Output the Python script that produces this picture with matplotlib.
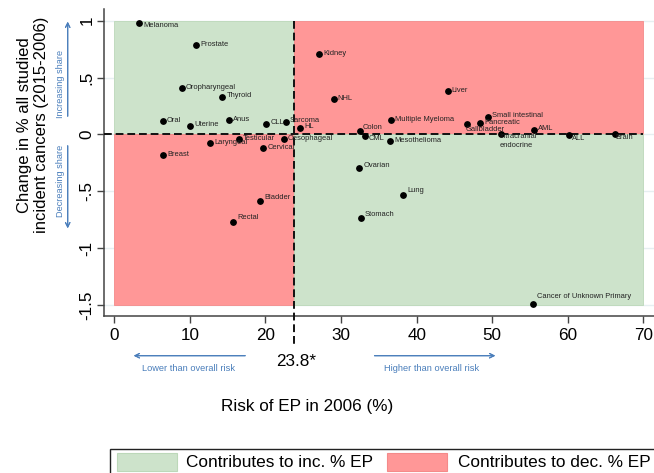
import matplotlib
matplotlib.use('Agg')
import matplotlib.pyplot as plt
from matplotlib.patches import Rectangle

plt.rcParams['font.family'] = ['Liberation Sans', 'DejaVu Sans']

# ---- data ----
cancers = ['Melanoma', 'Prostate', 'Oropharyngeal', 'Thyroid', 'Oral', 'Uterine',
           'Anus', 'CLL', 'Sarcoma', 'HL', 'Testicular', 'Oesophageal', 'Laryngeal',
           'Cervical', 'Breast', 'Bladder', 'Rectal', 'Kidney', 'NHL', 'Liver',
           'Multiple Myeloma', 'Small intestinal', 'Pancreatic', 'Gallbladder', 'AML',
           'Colon', 'CML', 'Mesothelioma', 'Intracranial\nendocrine', 'ALL', 'Brain',
           'Ovarian', 'Lung', 'Stomach', 'Cancer of Unknown Primary']
risk_2006 = [3.3, 10.8, 8.9, 14.3, 6.4, 10.0,
             15.2, 20.1, 22.7, 24.6, 16.5, 22.4, 12.7,
             19.7, 6.5, 19.3, 15.7, 27.1, 29.0, 44.1,
             36.6, 49.4, 48.4, 46.7, 55.5,
             32.5, 33.1, 36.5, 51.1, 60.1, 66.2,
             32.4, 38.2, 32.6, 55.4]
share_change = [0.976, 0.783, 0.405, 0.331, 0.117, 0.076,
                0.123, 0.093, 0.111, 0.058, -0.044, -0.041, -0.079,
                -0.12, -0.185, -0.589, -0.769, 0.703, 0.308, 0.378,
                0.126, 0.155, 0.097, 0.088, 0.041,
                0.029, -0.018, -0.059, 0.003, -0.006, 0.0,
                -0.299, -0.531, -0.739, -1.49]

overall_risk = 23.8
x_range = (0, 70)
y_range = (-1.5, 1)
x_ticks = [0, 10, 20, 30, 40, 50, 60, 70]
y_ticks = [1, 0.5, 0, -0.5, -1, -1.5]
y_ticklabels = ['1', '.5', '0', '-.5', '-1', '-1.5']

green = '#cde3cb'
red = '#ff9797'
blue = '#4a7ebb'
W, H = 654, 473

# label offsets in pixels (dx, dy up), default is right of the dot
label_offsets = {
    'Melanoma': (4, -2), 'Colon': (3, 4), 'Gallbladder': (-2, -5), 'CML': (4, -2),
    'ALL': (3, -3), 'Brain': (1, -3.5), 'Ovarian': (4, 3), 'Lung': (4, 4),
    'Stomach': (4, 4), 'Bladder': (4, 4), 'Rectal': (4, 4),
    'Cancer of Unknown Primary': (4, 7),
}


def fx(px):
    return px / W


def fy(py):
    return 1 - py / H


fig = plt.figure(figsize=(W / 100, H / 100), dpi=100)
ax = fig.add_axes([fx(104.3), fy(315.7), (658.6 - 104.3) / W, (315.7 - 9.3) / H])
ax.set_xlim(-1.32, 72)
ax.set_ylim(-1.594, 1.10)

for y in y_ticks:
    ax.axhline(y, color='#e6eff1', lw=1, zorder=0)

# quadrants
ax.fill_between([x_range[0], overall_risk], 0, y_range[1], color=green, ec='#bcd8b9', lw=0.6, zorder=1)
ax.fill_between([overall_risk, x_range[1]], 0, y_range[1], color=red, ec='#f48a8a', lw=0.6, zorder=1)
ax.fill_between([x_range[0], overall_risk], y_range[0], 0, color=red, ec='#f48a8a', lw=0.6, zorder=1)
ax.fill_between([overall_risk, x_range[1]], y_range[0], 0, color=green, ec='#bcd8b9', lw=0.6, zorder=1)

ax.plot([ax.get_xlim()[0], x_range[1]], [0, 0], color='#111', lw=1.4,
        ls=(0, (4, 2)), zorder=3)
ax.plot([overall_risk, overall_risk], [y_range[1], -1.87], color='#111', lw=1.4,
        ls=(0, (4, 2)), zorder=3, clip_on=False)

ax.scatter(risk_2006, share_change, s=15, color='black', zorder=4)
for name, x, y in zip(cancers, risk_2006, share_change):
    dx, dy = label_offsets.get(name, (4, 1))
    va = 'center'
    if name.startswith('Intracranial'):
        dx, dy, va = -1, 1, 'top'
    ax.annotate(name, (x, y), xytext=(dx * 0.72, dy * 0.72), textcoords='offset points',
                fontsize=5.4, color='#222', ha='left', va=va, zorder=5,
                linespacing=1.3)

# axes styling
for s in ['top', 'right']:
    ax.spines[s].set_visible(False)
for s in ['left', 'bottom']:
    ax.spines[s].set_color('#444')
    ax.spines[s].set_linewidth(1.1)
ax.set_facecolor('white')
ax.set_xticks(x_ticks)
ax.set_yticks(y_ticks)
ax.set_yticklabels(y_ticklabels)
ax.tick_params(axis='both', length=5, width=1, color='#444', labelsize=12.3)
ax.tick_params(axis='x', pad=4)
ax.tick_params(axis='y', pad=2)
for lbl in ax.get_yticklabels():
    lbl.set_rotation(90)
    lbl.set_va('center')

# titles
fig.text(fx(33), fy(125), 'Change in % all studied\nincident cancers (2015-2006)',
         rotation=90, ha='center', va='center', fontsize=12, linespacing=1.1)
fig.text(fx(307), fy(406.5), 'Risk of EP in 2006 (%)', ha='center', va='center', fontsize=12.3)
fig.text(fx(296.5), fy(361.7), '23.8*', ha='center', va='center', fontsize=12.3)

# direction hints
arrow = dict(arrowstyle='->', color=blue, lw=0.8, mutation_scale=8)
fig.add_artist(plt.annotate('', xy=(fx(131), fy(355.7)), xytext=(fx(248), fy(355.7)),
                            xycoords='figure fraction', textcoords='figure fraction', arrowprops=arrow))
fig.add_artist(plt.annotate('', xy=(fx(498), fy(355.7)), xytext=(fx(371.7), fy(355.7)),
                            xycoords='figure fraction', textcoords='figure fraction', arrowprops=arrow))
fig.add_artist(plt.annotate('', xy=(fx(67.7), fy(19)), xytext=(fx(67.7), fy(119)),
                            xycoords='figure fraction', textcoords='figure fraction', arrowprops=arrow))
fig.add_artist(plt.annotate('', xy=(fx(67.7), fy(231)), xytext=(fx(67.7), fy(143)),
                            xycoords='figure fraction', textcoords='figure fraction', arrowprops=arrow))
fig.text(fx(189), fy(368.3), 'Lower than overall risk', color=blue, fontsize=6.7, ha='center', va='center')
fig.text(fx(431.7), fy(368.3), 'Higher than overall risk', color=blue, fontsize=6.7, ha='center', va='center')
fig.text(fx(60.5), fy(84), 'Increasing share', color=blue, fontsize=6.6, rotation=90, ha='center', va='center')
fig.text(fx(60.5), fy(180.5), 'Decreasing share', color=blue, fontsize=6.6, rotation=90, ha='center', va='center')

# legend box (cropped at the right/bottom like the reference)
fig.add_artist(Rectangle((fx(110), fy(490)), fx(700) - fx(110), fy(449) - fy(490),
                         transform=fig.transFigure, fill=False, ec='#222', lw=1, clip_on=False))
fig.add_artist(Rectangle((fx(116.7), fy(471)), fx(177.2) - fx(116.7), fy(453) - fy(471),
                         transform=fig.transFigure, fc=green, ec='#bcd8b9', lw=0.8))
fig.add_artist(Rectangle((fx(387.3), fy(471)), fx(446.7) - fx(387.3), fy(453) - fy(471),
                         transform=fig.transFigure, fc=red, ec='#f48a8a', lw=0.8))
fig.text(fx(186.3), fy(462.5), 'Contributes to inc. % EP', fontsize=12.4, ha='left', va='center')
fig.text(fx(457.7), fy(462.5), 'Contributes to dec. % EP', fontsize=12.4, ha='left', va='center')

fig.savefig('out.png', dpi=100)
